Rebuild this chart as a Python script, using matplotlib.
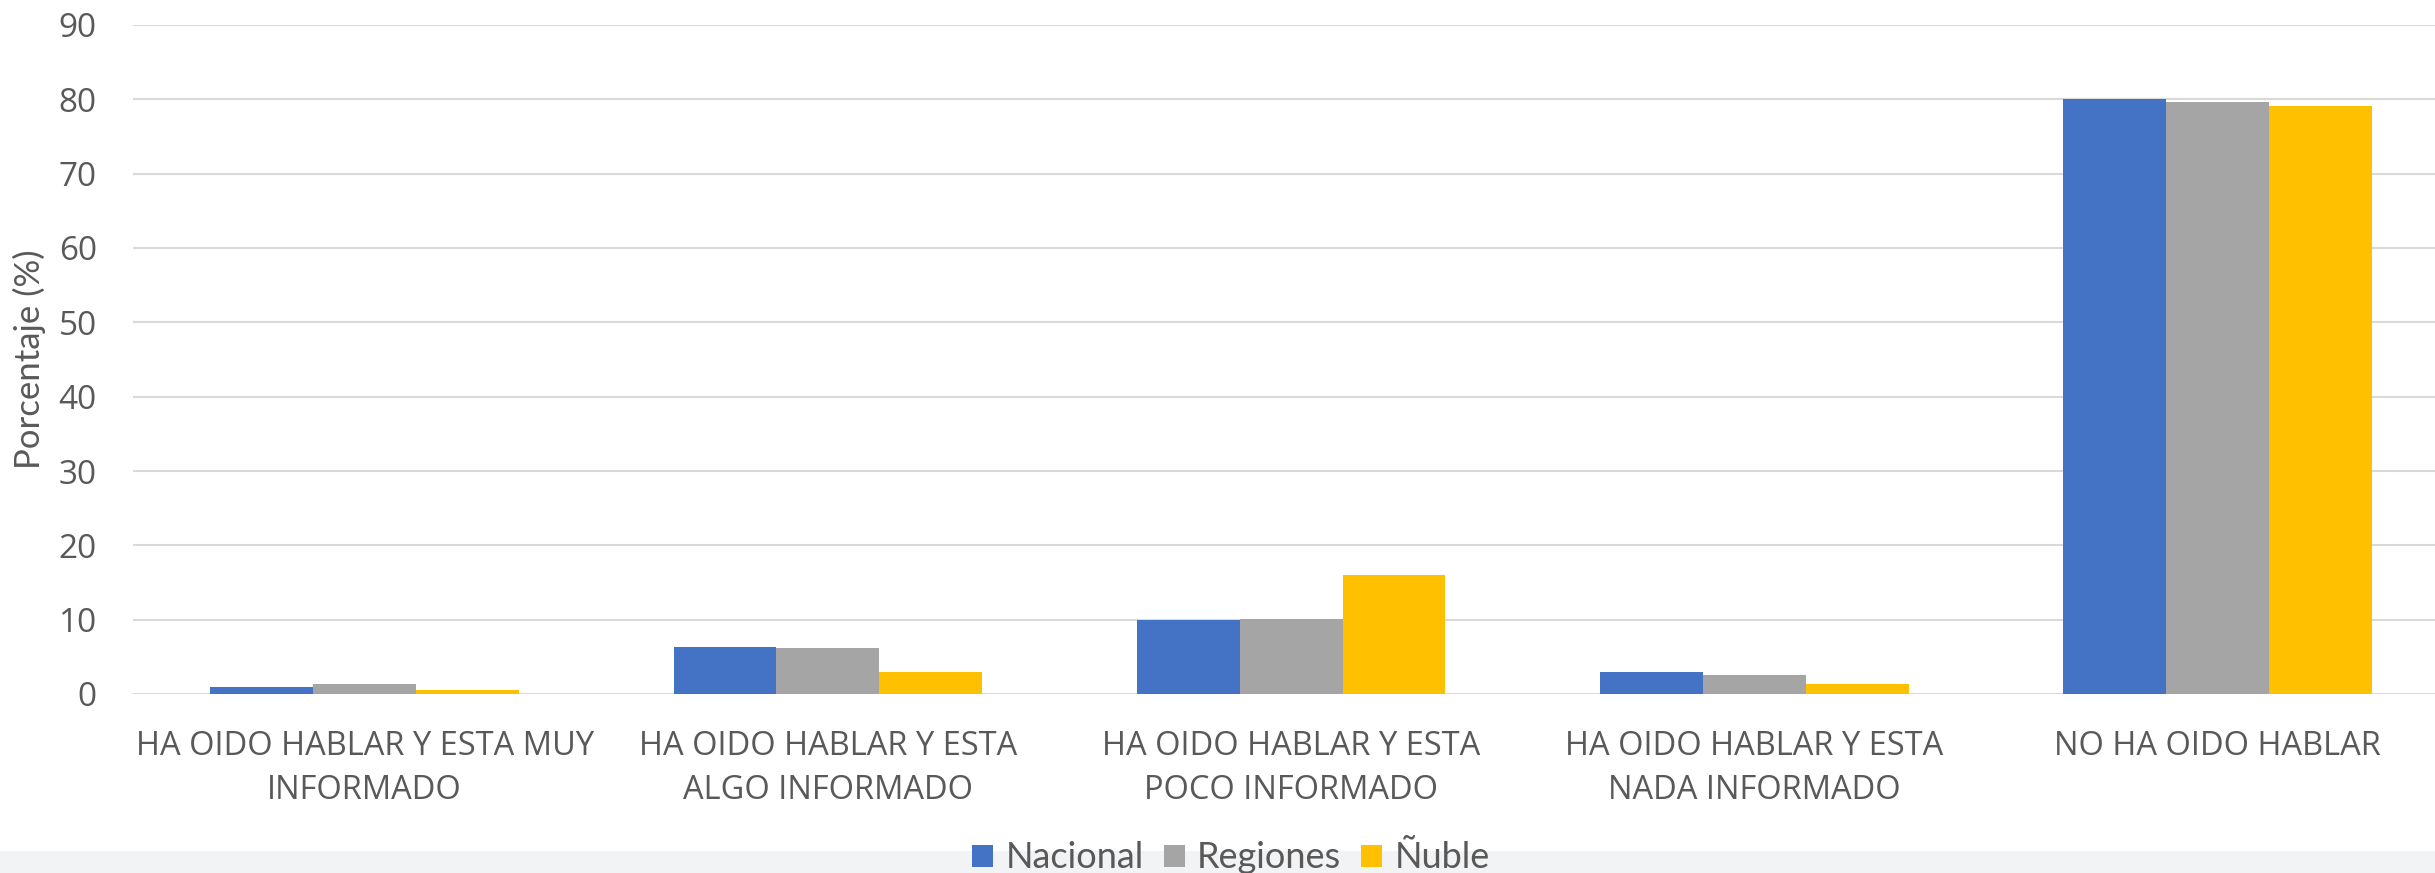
import matplotlib
matplotlib.use("Agg")
import matplotlib.pyplot as plt
import numpy as np
from matplotlib.patches import Rectangle

categories = ["HA OIDO HABLAR Y ESTA MUY\nINFORMADO",
              "HA OIDO HABLAR Y ESTA\nALGO INFORMADO",
              "HA OIDO HABLAR Y ESTA\nPOCO INFORMADO",
              "HA OIDO HABLAR Y ESTA\nNADA INFORMADO",
              "NO HA OIDO HABLAR"]
series_names = ["Nacional", "Regiones", "Ñuble"]
nacional = [1.0, 6.3, 9.9, 2.9, 80.0]
regiones = [1.4, 6.2, 10.1, 2.5, 79.7]
nuble = [0.6, 2.9, 16.0, 1.4, 79.1]
colors = ["#4472C4", "#A5A5A5", "#FFC000"]
yticks = [0, 10, 20, 30, 40, 50, 60, 70, 80, 90]

W, H = 2435, 873
fig = plt.figure(figsize=(W / 100, H / 100), dpi=100)
fig.patch.set_facecolor("white")

# bottom light band
fig.patches.append(Rectangle((0, 0), 1, (H - 851) / H, transform=fig.transFigure,
                             facecolor="#F2F3F5", edgecolor="none", zorder=0))

left, right = 133, 2435
bottom, top = 694, 25
ax = fig.add_axes([left / W, (H - bottom) / H, (right - left) / W, (bottom - top) / H])
ax.set_facecolor("none")

x = np.arange(len(categories))
bw = 0.222
for i, (vals, c, name) in enumerate(zip([nacional, regiones, nuble], colors, series_names)):
    ax.bar(x + (i - 1) * bw, vals, width=bw, color=c, label=name, zorder=3)

spacing = 463.25
ax.set_xlim(-0.5, -0.5 + (right - left) / spacing)
ax.set_ylim(0, 90)
ax.set_yticks(yticks)
ax.yaxis.grid(True, color="#D9D9D9", linewidth=1.5, zorder=0)
ax.set_axisbelow(True)
for s in ax.spines.values():
    s.set_visible(False)

font = "Open Sans"
narrow = "Lato"
ax.set_xticks(x)
ax.set_xticklabels(categories, fontsize=23.5, color="#595959", family=font, linespacing=1.45)
ax.tick_params(axis="x", length=0, pad=26)
ax.tick_params(axis="y", length=0, pad=26, labelsize=24, labelcolor="#595959")
for lab in ax.get_yticklabels():
    lab.set_family(font)

ax.set_ylabel("Porcentaje (%)", fontsize=25, color="#595959", family=narrow)
ax.yaxis.set_label_coords(-(left - 46) / (right - left), 0.5)

handles, labels = ax.get_legend_handles_labels()
leg = fig.legend(handles, labels, loc="center", bbox_to_anchor=(1231 / W, (H - 858) / H),
                 ncol=3, frameon=False, handlelength=0.58, handleheight=0.58,
                 columnspacing=0.55, handletextpad=0.35,
                 prop={"family": narrow, "size": 26})
for t in leg.get_texts():
    t.set_color("#595959")

fig.savefig("out.png", dpi=100)
